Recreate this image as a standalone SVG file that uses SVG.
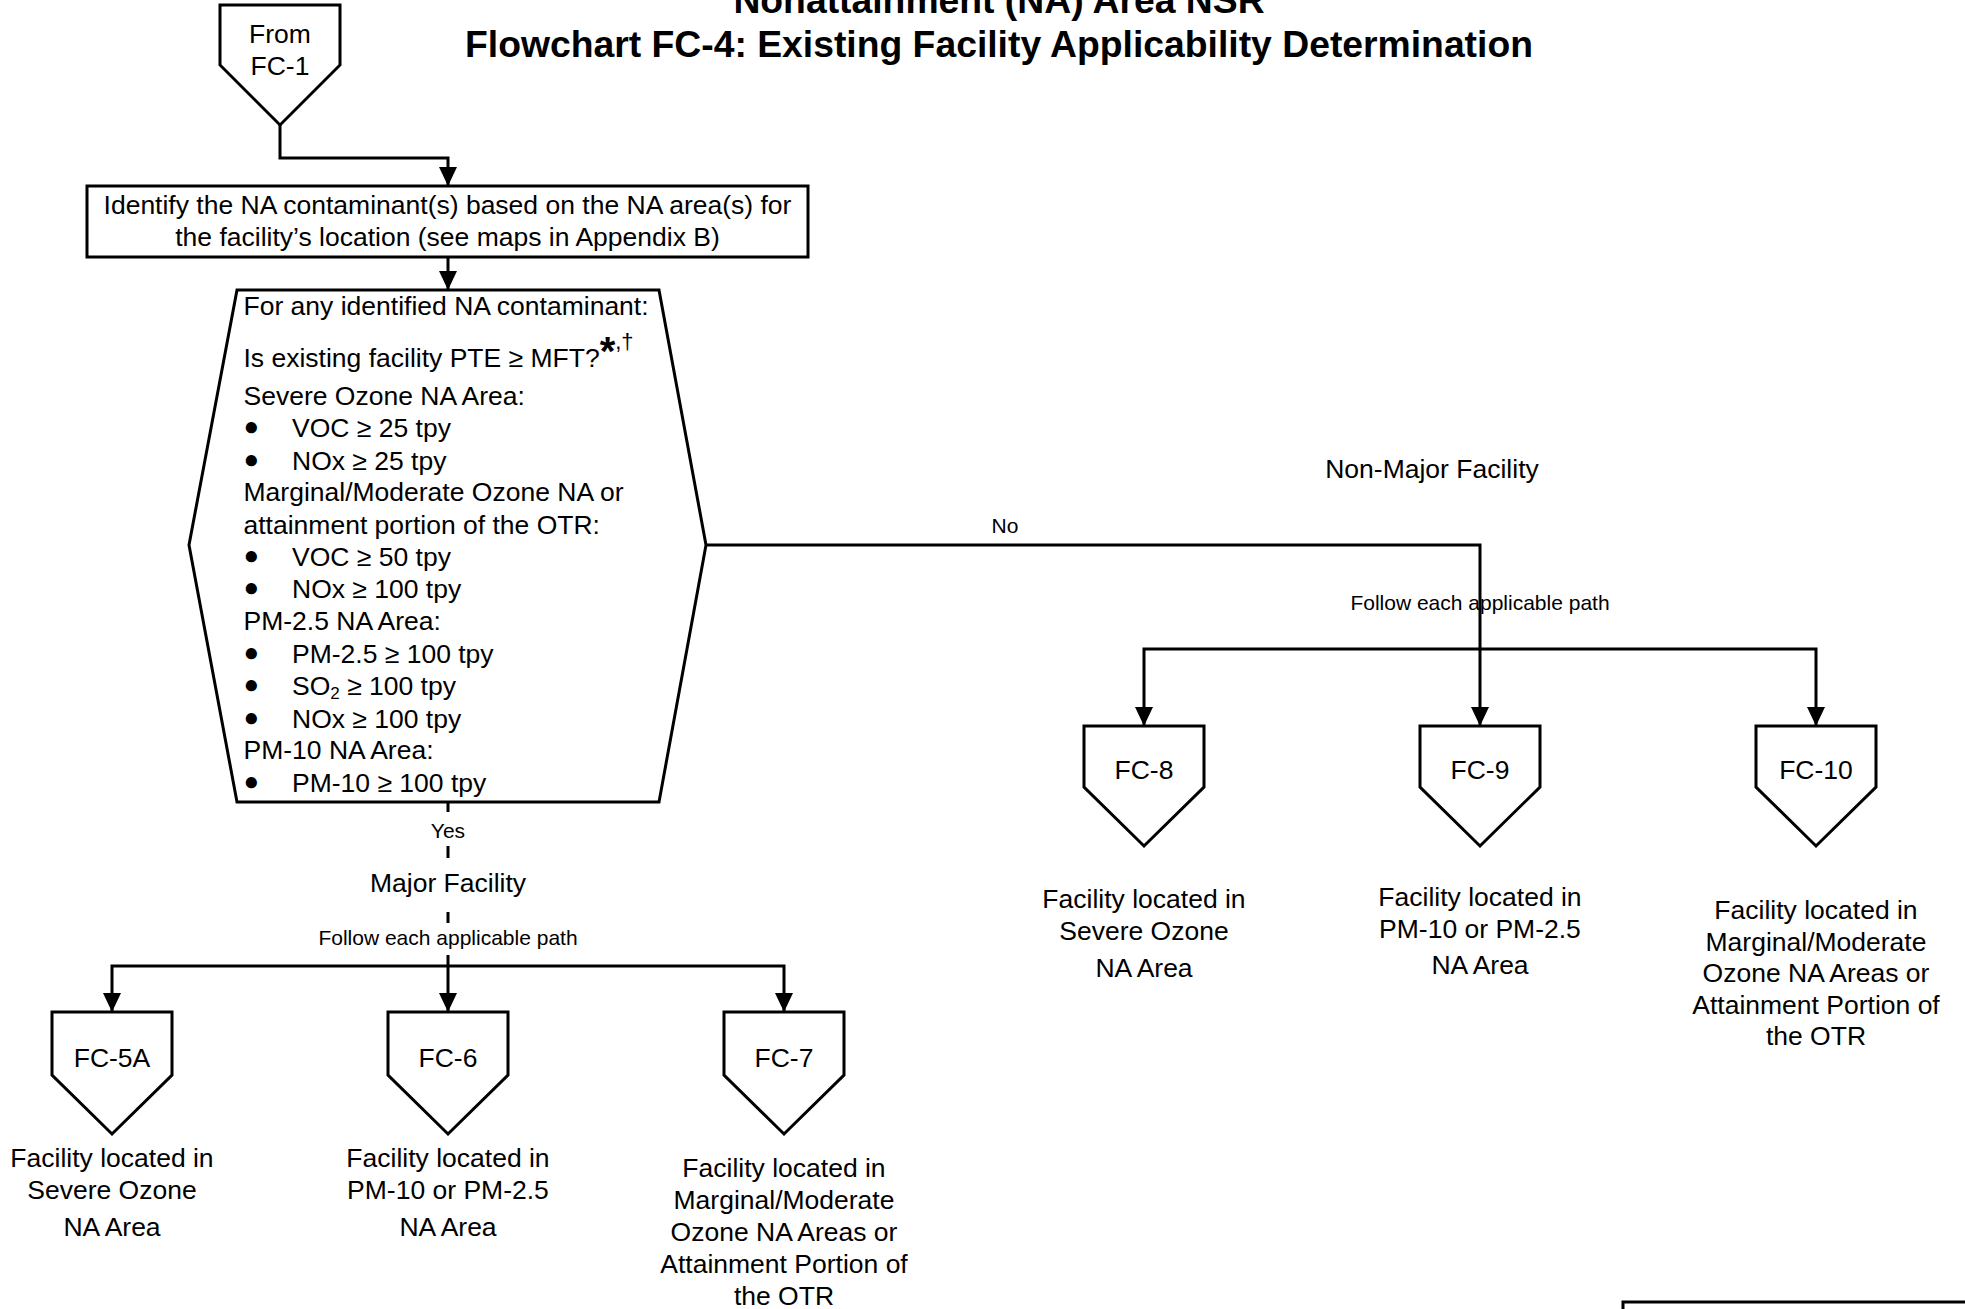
<svg xmlns="http://www.w3.org/2000/svg" width="1965" height="1309" viewBox="0 0 1965 1309">
  <style>
    text { font-family: "Liberation Sans", Arial, sans-serif; fill: #000; }
    .t { font-size: 26.5px; }
    .c { text-anchor: middle; }
    .s { font-size: 21px; }
    .title { font-size: 37.3px; font-weight: bold; text-anchor: middle; }
    .shape { fill: #fff; stroke: #000; stroke-width: 3; stroke-linejoin: miter; }
    .wire { fill: none; stroke: #000; stroke-width: 3; }
    .arrow { marker-end: url(#head); }
    .b { font-size: 26px; }
  </style>
  <defs>
    <marker id="head" markerUnits="userSpaceOnUse" markerWidth="20" markerHeight="20" refX="19" refY="9" orient="auto">
      <path d="M0,0 L19,9 L0,18 Z" fill="#000"/>
    </marker>
  </defs>

  <rect width="1965" height="1309" fill="#fff"/>

  <!-- title -->
  <g id="title">
    <text class="title" x="999" y="13">Nonattainment (NA) Area NSR</text>
    <text class="title" x="999" y="57">Flowchart FC-4: Existing Facility Applicability Determination</text>
  </g>

  <!-- connectors -->
  <g id="connectors">
    <path class="wire arrow" d="M280,125 L280,158 L448,158 L448,186"/>
    <path class="wire arrow" d="M448,257 L448,290"/>
    <!-- No branch -->
    <path class="wire arrow" d="M706,545 L1480,545 L1480,726"/>
    <path class="wire arrow" d="M1480,649 L1144,649 L1144,726"/>
    <path class="wire arrow" d="M1480,649 L1816,649 L1816,726"/>
    <!-- Yes branch (broken by labels) -->
    <path class="wire" d="M448,802 L448,812 M448,846 L448,858 M448,912 L448,923"/>
    <path class="wire arrow" d="M448,955 L448,1012"/>
    <path class="wire arrow" d="M448,966 L112,966 L112,1012"/>
    <path class="wire arrow" d="M448,966 L784,966 L784,1012"/>
    <text class="s c" x="1005" y="533">No</text>
    <text class="t c" x="1432" y="478">Non-Major Facility</text>
    <text class="s c" x="1480" y="610">Follow each applicable path</text>
    <text class="s c" x="448" y="838">Yes</text>
    <text class="t c" x="448" y="892">Major Facility</text>
    <text class="s c" x="448" y="945">Follow each applicable path</text>
  </g>

  <g id="from-fc1">
    <polygon class="shape" points="220,5 340,5 340,65 280,125 220,65"/>
    <text class="t c" x="280" y="43">From</text>
    <text class="t c" x="280" y="75">FC-1</text>
  </g>

  <g id="identify">
    <rect class="shape" x="87" y="186" width="721" height="71"/>
    <text class="t c" x="447.5" y="214">Identify the NA contaminant(s) based on the NA area(s) for</text>
    <text class="t c" x="447.5" y="246">the facility’s location (see maps in Appendix B)</text>
  </g>

  <g id="decision">
    <polygon class="shape" points="237,290 659,290 706,545 659,802 237,802 189,545"/>
    <text class="t" x="243.5" y="315">For any identified NA contaminant:</text>
    <text class="t" x="243.5" y="367">Is existing facility PTE ≥ MFT?<tspan font-size="40" font-weight="bold" dy="-2">*</tspan><tspan font-size="22" dy="-16">,†</tspan></text>
    <text class="t" x="243.5" y="405">Severe Ozone NA Area:</text>
    <text class="t" x="243.5" y="437"><tspan class="b" dy="-2">●</tspan><tspan x="292" dy="2">VOC ≥ 25 tpy</tspan></text>
    <text class="t" x="243.5" y="470"><tspan class="b" dy="-2">●</tspan><tspan x="292" dy="2">NOx ≥ 25 tpy</tspan></text>
    <text class="t" x="243.5" y="501">Marginal/Moderate Ozone NA or</text>
    <text class="t" x="243.5" y="534">attainment portion of the OTR:</text>
    <text class="t" x="243.5" y="566"><tspan class="b" dy="-2">●</tspan><tspan x="292" dy="2">VOC ≥ 50 tpy</tspan></text>
    <text class="t" x="243.5" y="598"><tspan class="b" dy="-2">●</tspan><tspan x="292" dy="2">NOx ≥ 100 tpy</tspan></text>
    <text class="t" x="243.5" y="630">PM-2.5 NA Area:</text>
    <text class="t" x="243.5" y="663"><tspan class="b" dy="-2">●</tspan><tspan x="292" dy="2">PM-2.5 ≥ 100 tpy</tspan></text>
    <text class="t" x="243.5" y="695"><tspan class="b" dy="-2">●</tspan><tspan x="292" dy="2">SO</tspan><tspan font-size="17" dy="4">2</tspan><tspan dy="-4"> ≥ 100 tpy</tspan></text>
    <text class="t" x="243.5" y="728"><tspan class="b" dy="-2">●</tspan><tspan x="292" dy="2">NOx ≥ 100 tpy</tspan></text>
    <text class="t" x="243.5" y="759">PM-10 NA Area:</text>
    <text class="t" x="243.5" y="792"><tspan class="b" dy="-2">●</tspan><tspan x="292" dy="2">PM-10 ≥ 100 tpy</tspan></text>
  </g>

  <g id="fc-5a">
    <polygon class="shape" points="52,1012 172,1012 172,1075 112,1134 52,1075"/>
    <text class="t c" x="112" y="1067">FC-5A</text>
    <text class="t c" x="112" y="1167">Facility located in</text>
    <text class="t c" x="112" y="1199">Severe Ozone</text>
    <text class="t c" x="112" y="1236">NA Area</text>
  </g>

  <g id="fc-6">
    <polygon class="shape" points="388,1012 508,1012 508,1075 448,1134 388,1075"/>
    <text class="t c" x="448" y="1067">FC-6</text>
    <text class="t c" x="448" y="1167">Facility located in</text>
    <text class="t c" x="448" y="1199">PM-10 or PM-2.5</text>
    <text class="t c" x="448" y="1236">NA Area</text>
  </g>

  <g id="fc-7">
    <polygon class="shape" points="724,1012 844,1012 844,1075 784,1134 724,1075"/>
    <text class="t c" x="784" y="1067">FC-7</text>
    <text class="t c" x="784" y="1177">Facility located in</text>
    <text class="t c" x="784" y="1209">Marginal/Moderate</text>
    <text class="t c" x="784" y="1241">Ozone NA Areas or</text>
    <text class="t c" x="784" y="1273">Attainment Portion of</text>
    <text class="t c" x="784" y="1305">the OTR</text>
  </g>

  <g id="fc-8">
    <polygon class="shape" points="1084,726 1204,726 1204,787 1144,846 1084,787"/>
    <text class="t c" x="1144" y="779">FC-8</text>
    <text class="t c" x="1144" y="908">Facility located in</text>
    <text class="t c" x="1144" y="940">Severe Ozone</text>
    <text class="t c" x="1144" y="977">NA Area</text>
  </g>

  <g id="fc-9">
    <polygon class="shape" points="1420,726 1540,726 1540,787 1480,846 1420,787"/>
    <text class="t c" x="1480" y="779">FC-9</text>
    <text class="t c" x="1480" y="906">Facility located in</text>
    <text class="t c" x="1480" y="938">PM-10 or PM-2.5</text>
    <text class="t c" x="1480" y="974">NA Area</text>
  </g>

  <g id="fc-10">
    <polygon class="shape" points="1756,726 1876,726 1876,787 1816,846 1756,787"/>
    <text class="t c" x="1816" y="779">FC-10</text>
    <text class="t c" x="1816" y="919">Facility located in</text>
    <text class="t c" x="1816" y="951">Marginal/Moderate</text>
    <text class="t c" x="1816" y="982">Ozone NA Areas or</text>
    <text class="t c" x="1816" y="1014">Attainment Portion of</text>
    <text class="t c" x="1816" y="1045">the OTR</text>
  </g>

  <g id="notes">
    <rect class="shape" x="1623" y="1302" width="400" height="60"/>
  </g>
</svg>
